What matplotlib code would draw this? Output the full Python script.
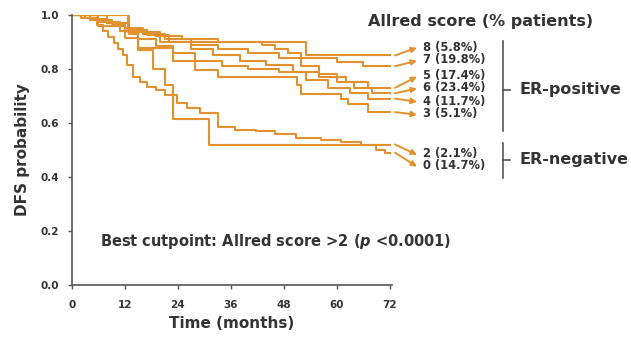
import numpy as np
import matplotlib
matplotlib.use('Agg')
import matplotlib.pyplot as plt

plt.rcParams['font.family'] = ['DejaVu Sans']
plt.rcParams['font.weight'] = 'bold'
plt.rcParams['mathtext.fontset'] = 'custom'
plt.rcParams['mathtext.rm'] = 'DejaVu Sans:bold'
plt.rcParams['mathtext.it'] = 'DejaVu Sans:italic:bold'

# Kaplan-Meier step curves: event times (months) and survival after each event
groups = ['8 (5.8%)', '7 (19.8%)', '5 (17.4%)', '6 (23.4%)', '4 (11.7%)', '3 (5.1%)',
          '2 (2.1%)', '0 (14.7%)']

t8 = [12.7, 20, 53]
s8 = [0.935, 0.898, 0.85]

t7 = [3, 6, 9, 12, 15, 19, 25, 33, 43, 46, 49, 52, 60, 66]
s7 = [0.99, 0.98, 0.965, 0.95, 0.935, 0.92, 0.91, 0.90, 0.89, 0.875, 0.86, 0.84, 0.825, 0.81]

t5 = [8, 13, 17, 22, 27, 32, 38, 44, 50, 56, 62, 67]
s5 = [0.97, 0.945, 0.925, 0.90, 0.875, 0.85, 0.83, 0.815, 0.79, 0.77, 0.75, 0.73]

t6 = [4, 8, 12, 16, 21, 27, 33, 40, 47, 52, 56, 60, 64, 68]
s6 = [0.985, 0.97, 0.95, 0.93, 0.91, 0.89, 0.875, 0.86, 0.84, 0.81, 0.78, 0.75, 0.73, 0.71]

t4 = [6, 11, 15, 19, 23, 28, 34, 40, 47, 53, 58, 63, 67]
s4 = [0.975, 0.94, 0.91, 0.885, 0.86, 0.83, 0.81, 0.80, 0.79, 0.76, 0.73, 0.71, 0.69]

t3 = [6, 12, 15, 23, 28, 33, 51, 52, 61, 62.5, 67]
s3 = [0.96, 0.915, 0.878, 0.83, 0.796, 0.77, 0.74, 0.707, 0.69, 0.67, 0.64]

t2 = [13, 15, 18.4, 21, 23, 31]
s2 = [0.93, 0.87, 0.80, 0.74, 0.615, 0.52]

t0 = [2, 4, 5.7, 7, 8.2, 9.5, 10.5, 11.6, 12.4, 13.9, 15.5, 17, 19, 21.1, 23.9, 26,
      29, 33, 37, 41.6, 46, 50.7, 56.4, 61, 65.5, 68.9, 71]
s0 = [0.99, 0.98, 0.963, 0.94, 0.919, 0.895, 0.875, 0.85, 0.815, 0.77, 0.75, 0.733, 0.72,
      0.704, 0.674, 0.655, 0.637, 0.585, 0.575, 0.57, 0.56, 0.545, 0.535, 0.53, 0.52, 0.50, 0.49]

curves = [(t8, s8), (t7, s7), (t5, s5), (t6, s6), (t4, s4), (t3, s3), (t2, s2), (t0, s0)]

xticks = [0, 12, 24, 36, 48, 60, 72]
yticks = [0.0, 0.2, 0.4, 0.6, 0.8, 1.0]

# layout: label heights (data units) next to the curve ends
label_y = [0.881, 0.833, 0.774, 0.730, 0.681, 0.633, 0.485, 0.441]

orange = '#E3912E'
grey = '#555555'
txt = '#333333'

fig = plt.figure(figsize=(6.31, 3.38), dpi=100)
ax = fig.add_axes([0.114, 0.157, 0.507, 0.799])

for (t, s) in curves:
    tt = np.concatenate([[0], t, [72]])
    ss = np.concatenate([[1.0], s, [s[-1]]])
    ax.plot(tt, ss, drawstyle='steps-post', color=orange, lw=1.5)

for (t, s), name, ly in zip(curves, groups, label_y):
    ax.annotate('', xy=(78.2, ly - 0.003), xytext=(73.2, s[-1]),
                arrowprops=dict(arrowstyle='-|>', color=orange, lw=1.4,
                                mutation_scale=8, shrinkA=0, shrinkB=0),
                annotation_clip=False)
    ax.text(79.5, ly, name, fontsize=8.3, color=txt, va='center', ha='left')

ax.set_xlim(0, 72.5)
ax.set_ylim(0, 1.0)
ax.set_xticks(xticks)
ax.set_yticks(yticks)
ax.set_xticklabels([str(v) for v in xticks], fontsize=7.5, color=txt)
ax.set_yticklabels(['%.1f' % v for v in yticks], fontsize=7.5, color=txt)
ax.tick_params(length=3, width=1, color=grey, pad=6)
ax.tick_params(axis='x', pad=8)
for side in ['top', 'right']:
    ax.spines[side].set_visible(False)
for side in ['left', 'bottom']:
    ax.spines[side].set_color(grey)
    ax.spines[side].set_linewidth(1.2)
ax.spines['left'].set_bounds(0, 1.0)

ax.set_xlabel('Time (months)', fontsize=11, fontweight='bold', color=txt, labelpad=4)
ax.set_ylabel('DFS probability', fontsize=11, fontweight='bold', color=txt, labelpad=8)

# legend header and ER brackets
ax.text(92.5, 0.975, 'Allred score (% patients)', fontsize=11.5, color=txt,
        ha='center', va='center')
ax.plot([97.7, 97.7], [0.57, 0.905], color=grey, lw=1.2, clip_on=False)
ax.plot([97.7, 99.2], [0.722, 0.722], color=grey, lw=1.2, clip_on=False)
ax.text(101.5, 0.722, 'ER-positive', fontsize=11.5, color=txt, va='center')
ax.plot([97.7, 97.7], [0.395, 0.525], color=grey, lw=1.2, clip_on=False)
ax.plot([97.7, 99.2], [0.463, 0.463], color=grey, lw=1.2, clip_on=False)
ax.text(101.5, 0.463, 'ER-negative', fontsize=11.5, color=txt, va='center')

ax.text(6.3, 0.16, r'Best cutpoint: Allred score >2 ($p$ <0.0001)',
        fontsize=10.5, color=txt, va='center')

fig.savefig('out.png', dpi=100)
